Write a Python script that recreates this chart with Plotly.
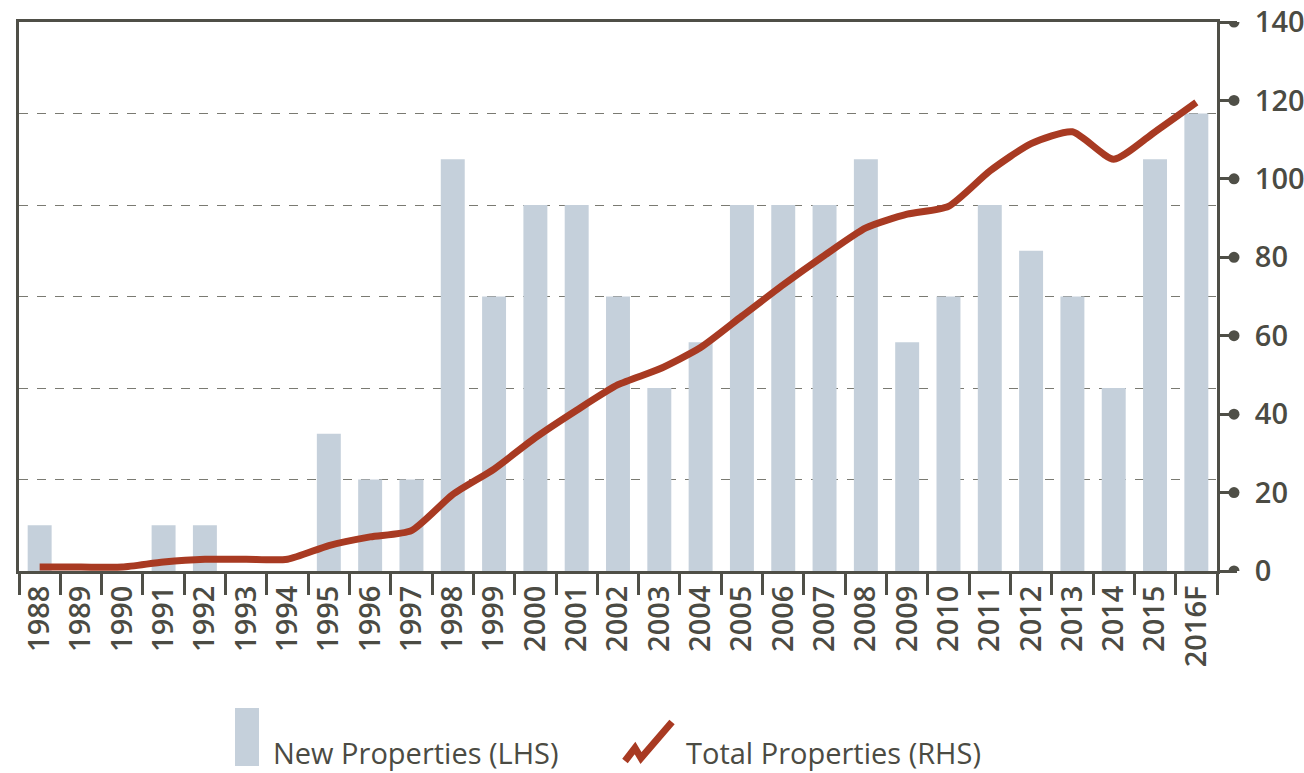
import plotly.graph_objects as go

years = ["1988", "1989", "1990", "1991", "1992", "1993", "1994", "1995", "1996", "1997",
         "1998", "1999", "2000", "2001", "2002", "2003", "2004", "2005", "2006", "2007",
         "2008", "2009", "2010", "2011", "2012", "2013", "2014", "2015", "2016F"]
new_properties = [1, 0, 0, 1, 1, 0, 0, 3, 2, 2,
                  9, 6, 8, 8, 6, 4, 5, 8, 8, 8,
                  9, 5, 6, 8, 7, 6, 4, 9, 10]
total_properties = [1, 1, 1, 2.3, 3, 3, 3, 6.5, 8.7, 10.3,
                    19.5, 26, 34, 41, 47.5, 51.5, 57, 65, 73, 80.5,
                    87.5, 91, 93, 102, 109, 112, 105, 112, 119.5]
rhs_ticks = [0, 20, 40, 60, 80, 100, 120, 140]
lhs_grid = [0, 2, 4, 6, 8, 10, 12]

TXT = "#4b4b43"
AX = "#4f4f47"
BAR = "#c5d0db"
LINE = "#a83a22"
FONT = "Open Sans"

fig = go.Figure()
fig.add_trace(go.Bar(x=years, y=new_properties, marker=dict(color=BAR, line=dict(width=0)),
                     width=0.58, name="New Properties (LHS)", yaxis="y", showlegend=False))
fig.add_trace(go.Scatter(x=years, y=total_properties, mode="lines",
                         line=dict(color=LINE, width=7, shape="spline", smoothing=0.6),
                         name="Total Properties (RHS)", yaxis="y2", showlegend=False))

# plot area geometry (pixels)
L, R, T, B = 19, 1217, 22, 571
W, H = R - L, B - T

def px2paper_x(px):
    return (px - L) / W

def px2paper_y(py):
    return (B - py) / H

shapes = []
# dots at the ends of the right-axis ticks
for v in rhs_ticks:
    shapes.append(dict(type="circle", xref="paper", yref="y2",
                       xsizemode="pixel", ysizemode="pixel",
                       xanchor=px2paper_x(1234), yanchor=v,
                       x0=-5.5, x1=5.5, y0=-5.5, y1=5.5,
                       fillcolor=AX, line=dict(width=0), layer="above"))

# custom legend: tall bar swatch
shapes.append(dict(type="rect", xref="paper", yref="paper",
                   x0=px2paper_x(235), x1=px2paper_x(259),
                   y0=px2paper_y(766), y1=px2paper_y(708),
                   fillcolor=BAR, line=dict(width=0)))
# custom legend: check-mark line swatch
pts = [(625, 761), (635, 748), (641, 758), (672, 722)]
path = "M " + " L ".join(f"{px2paper_x(x):.5f},{px2paper_y(y):.5f}" for x, y in pts)
shapes.append(dict(type="path", xref="paper", yref="paper", path=path,
                   line=dict(color=LINE, width=7)))

annotations = [
    dict(text="New Properties (LHS)", xref="paper", yref="paper",
         x=px2paper_x(271), y=px2paper_y(752), xanchor="left", yanchor="middle",
         showarrow=False, font=dict(family=FONT, size=29, color=TXT)),
    dict(text="Total Properties (RHS)", xref="paper", yref="paper",
         x=px2paper_x(684), y=px2paper_y(752), xanchor="left", yanchor="middle",
         showarrow=False, font=dict(family=FONT, size=29, color=TXT)),
]

fig.update_layout(
    width=1304, height=773,
    margin=dict(l=L, r=1304 - R, t=T, b=773 - B, autoexpand=False),
    paper_bgcolor="white", plot_bgcolor="white",
    showlegend=False,
    shapes=shapes,
    annotations=annotations,
    xaxis=dict(type="category", tickson="boundaries", ticks="outside", ticklen=21,
               tickwidth=3, tickcolor=AX, showline=True, linewidth=3, linecolor=AX,
               mirror=True, tickangle=-90, showgrid=False, automargin=False,
               tickfont=dict(family=FONT, size=29, color=TXT, weight=600)),
    yaxis=dict(range=[0, 12], tickvals=lhs_grid, showticklabels=False, ticks="",
               showgrid=True, gridcolor="#7a7a72", gridwidth=1, griddash="dash",
               showline=True, linewidth=3, linecolor=AX, zeroline=False, automargin=False),
    yaxis2=dict(range=[0, 140], tickvals=rhs_ticks, overlaying="y", side="right",
                showgrid=False, zeroline=False, showline=True, linewidth=3, linecolor=AX,
                ticks="outside", ticklen=17, tickwidth=3, tickcolor=AX,
                ticklabelstandoff=12, automargin=False,
                tickfont=dict(family=FONT, size=29, color=TXT, weight=600)),
)

fig.write_html("out.html", config={"displayModeBar": False},
               post_script="document.body.style.margin='0';document.body.style.overflow='hidden';")
